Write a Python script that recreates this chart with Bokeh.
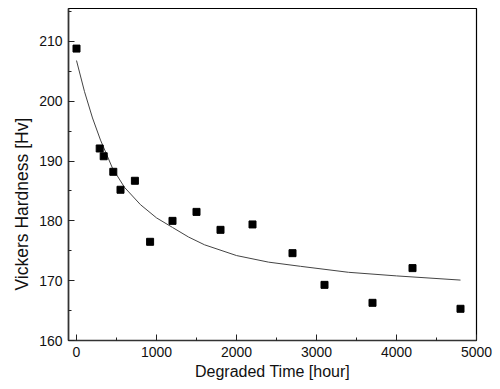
from bokeh.plotting import figure
from bokeh.models import Range1d, SingleIntervalTicker, ColumnDataSource, Title
from bokeh.embed import file_html
from bokeh.resources import INLINE

# measured data (Degraded time [hour] vs Vickers hardness [Hv])
time_h = [0, 290, 340, 460, 550, 730, 920, 1200, 1500, 1800, 2200, 2700, 3100, 3700, 4200, 4800]
hardness = [208.8, 192.1, 190.8, 188.2, 185.2, 186.7, 176.5, 180.0, 181.5, 178.5, 179.4, 174.6, 169.3, 166.3, 172.1, 165.3]

# fitted curve
fit_time = [0, 100, 200, 300, 450, 600, 800, 1000, 1200, 1400, 1600, 2000, 2400, 2800, 3400, 4000, 4800]
fit_hv = [206.8, 201.6, 197.2, 193.5, 188.8, 185.6, 182.7, 180.5, 178.9, 177.3, 176.0, 174.2, 173.1, 172.4, 171.4, 170.8, 170.1]

x_label = "Degraded Time [hour]"
y_label = "Vickers Hardness [Hv]"

FONT = "Liberation Sans"

p = figure(width=500, height=389, output_backend="svg", toolbar_location=None,
           x_range=Range1d(-100, 5000), y_range=Range1d(160, 215.5),
           min_border_left=68, min_border_right=24, min_border_top=8, min_border_bottom=49)

p.background_fill_color = "white"
p.border_fill_color = "white"
p.outline_line_color = "black"
p.outline_line_width = 1.2
p.xgrid.visible = False
p.ygrid.visible = False

p.xaxis.ticker = SingleIntervalTicker(interval=1000, num_minor_ticks=2)
p.yaxis.ticker = SingleIntervalTicker(interval=10, num_minor_ticks=2)

for ax in (p.xaxis, p.yaxis):
    ax.axis_line_color = "#333333"
    ax.axis_line_width = 1.6
    ax.major_tick_in = 6
    ax.major_tick_out = 0
    ax.minor_tick_in = 3
    ax.minor_tick_out = 0
    ax.major_tick_line_color = "#222222"
    ax.minor_tick_line_color = "#222222"
    ax.major_label_text_font = FONT
    ax.major_label_text_font_size = "14px"
    ax.major_label_text_color = "#111111"
    ax.axis_label_text_font = FONT
    ax.axis_label_text_font_size = "16px"
    ax.axis_label_text_font_style = "normal"
    ax.axis_label_text_color = "#111111"

p.xaxis.axis_label = x_label
p.xaxis.major_label_standoff = 6
p.yaxis.major_label_standoff = 6
p.xaxis.axis_label_standoff = 3

# y-axis title as a side title, started 50 px above the frame bottom as in the original
p.add_layout(Title(text=y_label, align="left", offset=50, standoff=10,
                   text_font=FONT, text_font_size="17.5px", text_font_style="normal",
                   text_color="#111111"), "left")

p.line(fit_time, fit_hv, line_color="#444444", line_width=1)
src = ColumnDataSource(dict(t=time_h, h=hardness))
p.scatter("t", "h", source=src, marker="square", size=7, fill_color="black", line_color="black")

open("out.html", "w").write(file_html(p, INLINE))
